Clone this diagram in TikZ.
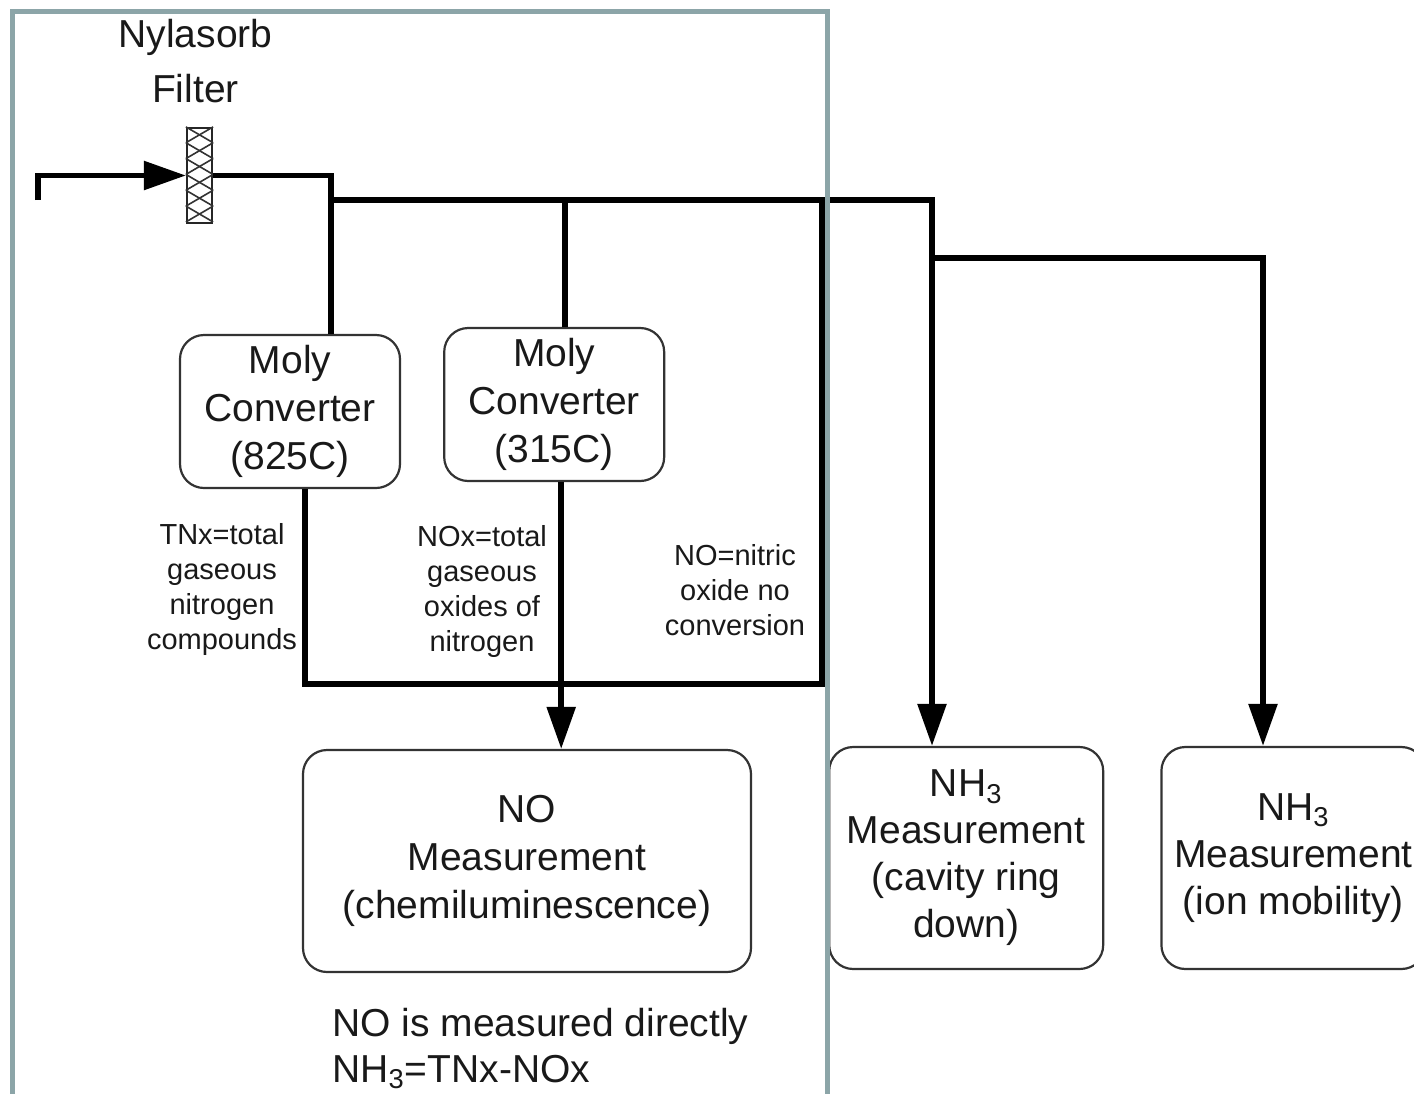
\documentclass[tikz,border=0pt]{standalone}
\usepackage{fontspec}
\setmainfont{Liberation Sans}
\usepackage{tikz}
\usetikzlibrary{positioning}
\usetikzlibrary{arrows.meta}
\newlength{\hdist}
\newlength{\hdistlong}
\definecolor{framegray}{HTML}{8CA5A8}
\tikzstyle{unit}=[draw=black!80, rounded corners=12pt, line width=1.1pt, align=center, text=black!90, font=\fontsize{19.5}{24}\selectfont]
\tikzstyle{note}=[align=center, text=black!90, font=\fontsize{14.5}{17.5}\selectfont]
\tikzstyle{pipe}=[line width=2.8pt]
\tikzstyle{feed}=[pipe, -{Triangle[length=21pt, width=14pt]}]
\tikzstyle{filter}=[draw=black!85, fill=white, line width=1.1pt, minimum width=12.5pt, minimum height=47.5pt]
\tikzstyle{hatch}=[black!80, line width=0.8pt]

\begin{document}
\begin{tikzpicture}[x=0.5pt, y=-0.5pt, inner sep=0pt]
	\useasboundingbox (0,0) rectangle (1414,1093);
	
	\setlength{\hdist}{21pt}
	\setlength{\hdistlong}{38pt}
	
	\node (filt) [filter] at (199.5,175.5) {};
	\node (filtlabel) [above=12pt of filt, xshift=-2pt, align=center, text=black!90, font=\fontsize{19.5}{27.5}\selectfont] {Nylasorb\\Filter};
	\foreach \k [evaluate=\k as \ya using -\k*7.92, evaluate=\k as \yb using -(\k+1)*7.92] in {0,...,5} {
		\draw [hatch] ([yshift=\ya pt]filt.north west) -- ([yshift=\yb pt]filt.north east);
		\draw [hatch] ([yshift=\ya pt]filt.north east) -- ([yshift=\yb pt]filt.north west);
	}
	
	\node (conva) [unit, minimum width=110pt, minimum height=76.5pt] at (290,411.5) {Moly\\Converter\\(825C)};
	\node (convb) [unit, minimum width=110pt, minimum height=76.5pt, right=\hdist of conva, yshift=3.5pt] {Moly\\Converter\\(315C)};
	
	\node (nomeas) [unit, minimum width=224pt, minimum height=111pt] at (527,861) {NO\\Measurement\\(chemiluminescence)};
	\node (nh3a) [unit, minimum width=137pt, minimum height=111pt, right=\hdistlong of nomeas, yshift=1.5pt, font=\fontsize{19.5}{23.5}\selectfont] {NH\textsubscript{3}\\Measurement\\(cavity ring\\down)};
	\node (nh3b) [unit, minimum width=132pt, minimum height=111pt, right=28pt of nh3a, font=\fontsize{19.5}{23.5}\selectfont] {NH\textsubscript{3}\\Measurement\\(ion mobility)};
	
	\node (tnx) [note] at (222,589) {TNx=total\\gaseous\\nitrogen\\compounds};
	\node (nox) [note] at (482,591) {NOx=total\\gaseous\\oxides of\\nitrogen};
	\node (noonly) [note] at (735,590) {NO=nitric\\oxide no\\conversion};
	
	\node (summary) [anchor=north west, align=left, text=black!90, font=\fontsize{19.5}{23}\selectfont] at (332,1008) {NO is measured directly\\NH\textsubscript{3}=TNx-NOx};
	
	\coordinate (inlet) at (38,200);
	\coordinate (tee) at (331,200);
	\coordinate (loopc) at (822,684);
	\coordinate (split) at (932,200);
	\coordinate (split2) at (932,258);
	\coordinate (branch) at (1263,258);
	
	\draw [feed] (inlet) |- (filt);
	\draw [pipe] (filt) -| (tee |- conva.north);
	\draw [feed] (tee) -- (split) -- (split |- nh3a.north);
	\draw [pipe] ([xshift=5.5pt]convb.north) -- ([xshift=5.5pt]convb.north |- tee);
	\draw [pipe] ([xshift=7.5pt]conva.south) |- (loopc) -- (loopc |- tee);
	\draw [feed] ([xshift=3.5pt]convb.south) -- ([xshift=3.5pt]convb.south |- nomeas.north);
	\draw [feed] (split2) -- (branch) -- (branch |- nh3b.north);
	
	\draw [framegray, line width=2.5pt] (12,1100) |- (827,11) -- (827,1100);
\end{tikzpicture}
\end{document}
